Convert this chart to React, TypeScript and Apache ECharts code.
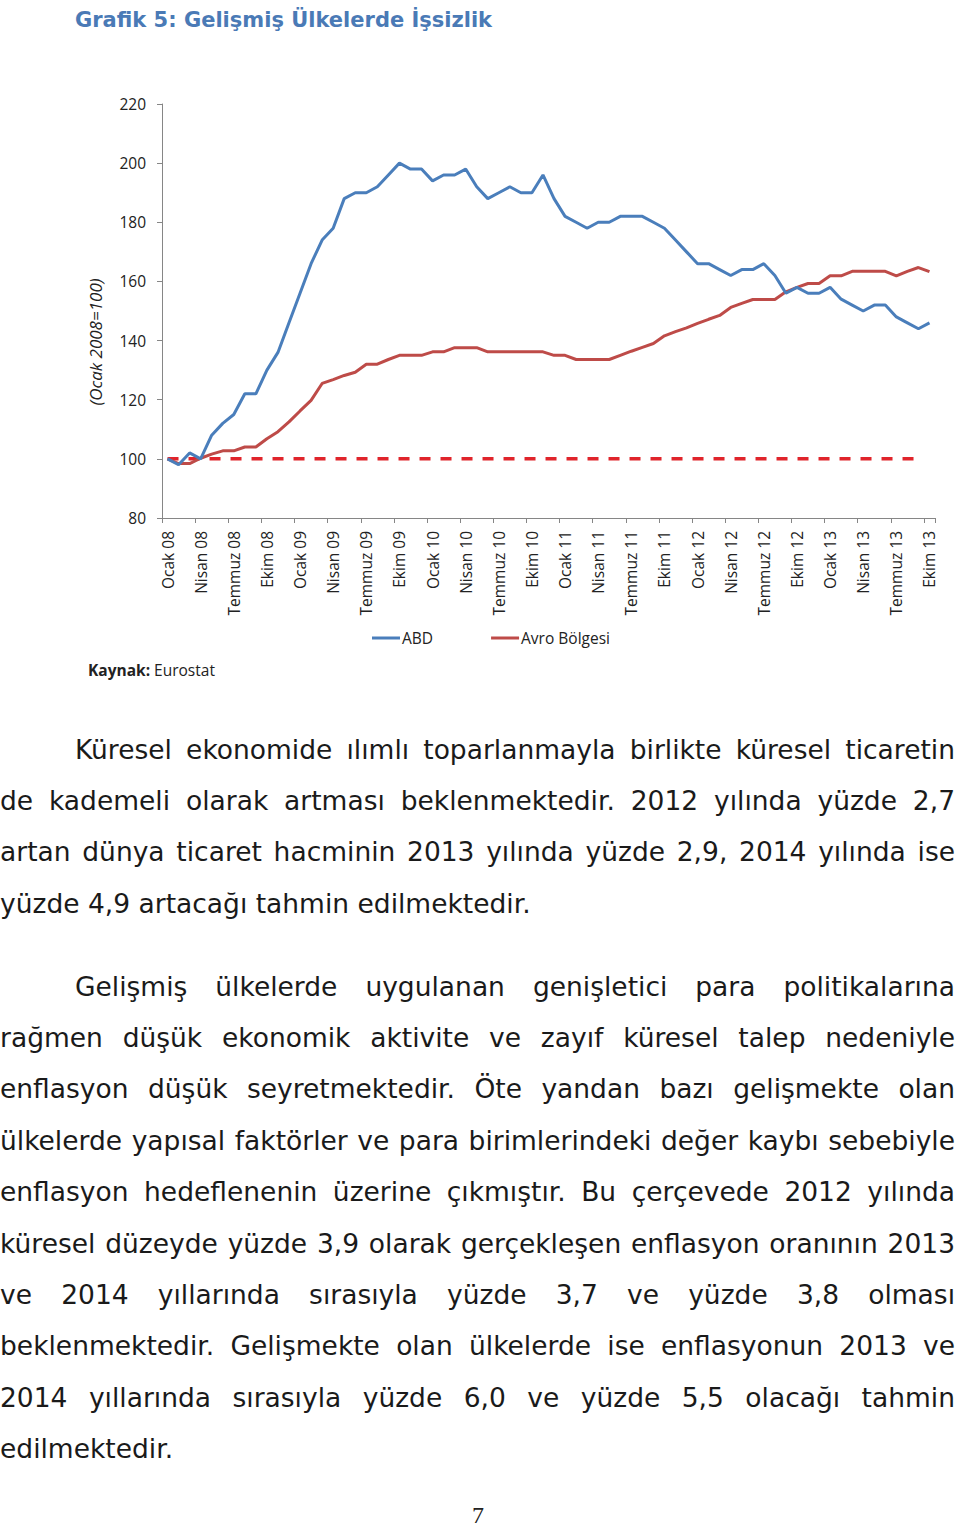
import React, { useEffect, useRef } from "react";
import * as echarts from "echarts";

const years = ["08", "09", "10", "11", "12", "13"];
const monthNames = ["Ocak", "Şubat", "Mart", "Nisan", "Mayıs", "Haziran", "Temmuz", "Ağustos", "Eylül", "Ekim", "Kasım", "Aralık"];
const monthsInLastYear = 10;

const categories: string[] = [];
years.forEach((y, yi) => {
  const n = yi === years.length - 1 ? monthsInLastYear : 12;
  for (let m = 0; m < n; m++) categories.push(`${monthNames[m]} ${y}`);
});

const abd = [
  100, 98, 102, 100, 108, 112, 115, 122, 122, 130, 136, 146,
  156, 166, 174, 178, 188, 190, 190, 192, 196, 200, 198, 198,
  194, 196, 196, 198, 192, 188, 190, 192, 190, 190, 196, 188,
  182, 180, 178, 180, 180, 182, 182, 182, 180, 178, 174, 170,
  166, 166, 164, 162, 164, 164, 166, 162, 156, 158, 156, 156,
  158, 154, 152, 150, 152, 152, 148, 146, 144, 146,
];

const avro = [
  100, 98.4, 98.4, 100.2, 101.6, 102.7, 102.7, 104, 104, 106.8, 109.2, 112.5,
  116.2, 119.8, 125.5, 126.8, 128.2, 129.3, 132, 132, 133.6, 135, 135, 135,
  136.2, 136.2, 137.6, 137.6, 137.6, 136.2, 136.2, 136.2, 136.2, 136.2, 136.2, 135,
  135, 133.6, 133.6, 133.6, 133.6, 135, 136.4, 137.7, 139, 141.6, 143, 144.3,
  145.8, 147.2, 148.5, 151.2, 152.6, 153.9, 153.9, 153.9, 156.5, 158, 159.3, 159.3,
  161.9, 161.9, 163.4, 163.4, 163.4, 163.4, 161.9, 163.4, 164.7, 163.3,
];

const baseline = [
  100, 100, 100, 100, 100, 100, 100, 100, 100, 100, 100, 100,
  100, 100, 100, 100, 100, 100, 100, 100, 100, 100, 100, 100,
  100, 100, 100, 100, 100, 100, 100, 100, 100, 100, 100, 100,
  100, 100, 100, 100, 100, 100, 100, 100, 100, 100, 100, 100,
  100, 100, 100, 100, 100, 100, 100, 100, 100, 100, 100, 100,
  100, 100, 100, 100, 100, 100, 100, 100, 100, null,
];

const seriesNames = ["ABD", "Avro Bölgesi"];
const yMin = 80;
const yMax = 220;
const yStep = 20;

const titleText = "Grafik 5: Gelişmiş Ülkelerde İşsizlik";
const yAxisTitle = "(Ocak 2008=100)";
const sourceLabel = "Kaynak:";
const sourceName = "Eurostat";

const paragraph1 = [
  "Küresel ekonomide ılımlı toparlanmayla birlikte küresel ticaretin",
  "de kademeli olarak artması beklenmektedir. 2012 yılında yüzde 2,7",
  "artan dünya ticaret hacminin 2013 yılında yüzde 2,9, 2014 yılında ise",
  "yüzde 4,9 artacağı tahmin edilmektedir.",
];
const paragraph2 = [
  "Gelişmiş ülkelerde uygulanan genişletici para politikalarına",
  "rağmen düşük ekonomik aktivite ve zayıf küresel talep nedeniyle",
  "enflasyon düşük seyretmektedir. Öte yandan bazı gelişmekte olan",
  "ülkelerde yapısal faktörler ve para birimlerindeki değer kaybı sebebiyle",
  "enflasyon hedeflenenin üzerine çıkmıştır. Bu çerçevede 2012 yılında",
  "küresel düzeyde yüzde 3,9 olarak gerçekleşen enflasyon oranının 2013",
  "ve 2014 yıllarında sırasıyla yüzde 3,7 ve yüzde 3,8 olması",
  "beklenmektedir. Gelişmekte olan ülkelerde ise enflasyonun 2013 ve",
  "2014 yıllarında sırasıyla yüzde 6,0 ve yüzde 5,5 olacağı tahmin",
  "edilmektedir.",
];
const pageNumber = "7";

const axisFont = "'Open Sans', 'Noto Sans', sans-serif";
const bodyFont = "'DejaVu Sans', sans-serif";

function Line({ text, top, indent, last }: { text: string; top: number; indent: boolean; last: boolean }) {
  return (
    <div
      style={{
        position: "absolute",
        left: indent ? 75 : 0,
        width: indent ? 880 : 955,
        top,
        fontFamily: bodyFont,
        fontSize: 26.5,
        lineHeight: "30px",
        color: "#1a1a1a",
        textAlign: "justify",
        textAlignLast: last ? "left" : "justify",
        whiteSpace: "nowrap",
      } as React.CSSProperties}
    >
      {text}
    </div>
  );
}

export default function App() {
  const ref = useRef<HTMLDivElement>(null);

  useEffect(() => {
    if (!ref.current) return;
    const chart = echarts.init(ref.current, null, { renderer: "svg" });
    chart.setOption({
      animation: false,
      textStyle: { fontFamily: axisFont },
      grid: { left: 162, top: 104, width: 773, height: 414, containLabel: false },
      xAxis: {
        type: "category",
        data: categories,
        boundaryGap: true,
        axisLine: { onZero: false, lineStyle: { color: "#868686", width: 1 } },
        axisTick: { show: true, interval: 2, length: 5, lineStyle: { color: "#868686" } },
        axisLabel: { interval: 2, rotate: 90, fontSize: 15.5, color: "#222", margin: 13, fontFamily: axisFont },
      },
      yAxis: {
        type: "value",
        min: yMin,
        max: yMax,
        interval: yStep,
        axisLine: { show: true, lineStyle: { color: "#868686", width: 1 } },
        axisTick: { show: true, length: 5, lineStyle: { color: "#868686" } },
        splitLine: { show: false },
        axisLabel: { margin: 16, fontSize: 15.5, color: "#222", fontFamily: axisFont },
      },
      legend: {
        data: seriesNames.map((n) => ({ name: n, icon: "rect" })),
        left: 367,
        top: 625,
        itemWidth: 28,
        itemHeight: 3,
        itemGap: 58,
        textStyle: { fontSize: 15.5, color: "#222", fontFamily: axisFont, padding: [0, 0, 0, -3] },
      },
      series: [
        {
          name: "100",
          type: "line",
          data: baseline,
          showSymbol: false,
          symbol: "none",
          lineStyle: { color: "#e0242b", width: 3.5, type: [11, 10] },
          itemStyle: { color: "#e0242b" },
          z: 1,
        },
        {
          name: seriesNames[1],
          type: "line",
          data: avro,
          showSymbol: false,
          symbol: "none",
          lineStyle: { color: "#be4b48", width: 3 },
          itemStyle: { color: "#be4b48" },
          z: 2,
        },
        {
          name: seriesNames[0],
          type: "line",
          data: abd,
          showSymbol: false,
          symbol: "none",
          lineStyle: { color: "#4a7ebb", width: 3 },
          itemStyle: { color: "#4a7ebb" },
          z: 3,
        },
      ],
      graphic: [
        {
          type: "text",
          x: 75,
          y: 20,
          style: {
            text: titleText,
            font: "bold 21px 'DejaVu Sans', sans-serif",
            fill: "#4a7ab6",
            textVerticalAlign: "middle",
            textAlign: "left",
          },
        },
        {
          type: "text",
          x: 95,
          y: 342,
          rotation: Math.PI / 2,
          style: {
            text: yAxisTitle,
            font: "italic 17px 'Open Sans', sans-serif",
            fill: "#222",
            textAlign: "center",
            textVerticalAlign: "middle",
          },
        },
        {
          type: "text",
          x: 88,
          y: 670,
          style: {
            text: `{b|${sourceLabel}} ${sourceName}`,
            font: "15.5px 'Open Sans', sans-serif",
            fill: "#222",
            textVerticalAlign: "middle",
            rich: { b: { fontWeight: "bold", fontSize: 15.5, fontFamily: axisFont, fill: "#222" } },
          },
        },
      ],
    });
    return () => chart.dispose();
  }, []);

  const step = 51.4;
  return (
    <div style={{ position: "absolute", left: 0, top: 0, width: 960, height: 1531, background: "#fff", overflow: "hidden" }}>
      <div ref={ref} style={{ position: "absolute", left: 0, top: 0, width: 960, height: 700 }} />
      {paragraph1.map((t, i) => (
        <Line key={"a" + i} text={t} top={734.5 + i * step} indent={i === 0} last={i === paragraph1.length - 1} />
      ))}
      {paragraph2.map((t, i) => (
        <Line key={"b" + i} text={t} top={971.5 + i * step} indent={i === 0} last={i === paragraph2.length - 1} />
      ))}
      <div
        style={{
          position: "absolute",
          left: 0,
          width: 956,
          top: 1501,
          height: 28,
          textAlign: "center",
          fontFamily: "'Liberation Serif', serif",
          fontSize: 24,
          lineHeight: "28px",
          color: "#222",
        }}
      >
        {pageNumber}
      </div>
    </div>
  );
}
